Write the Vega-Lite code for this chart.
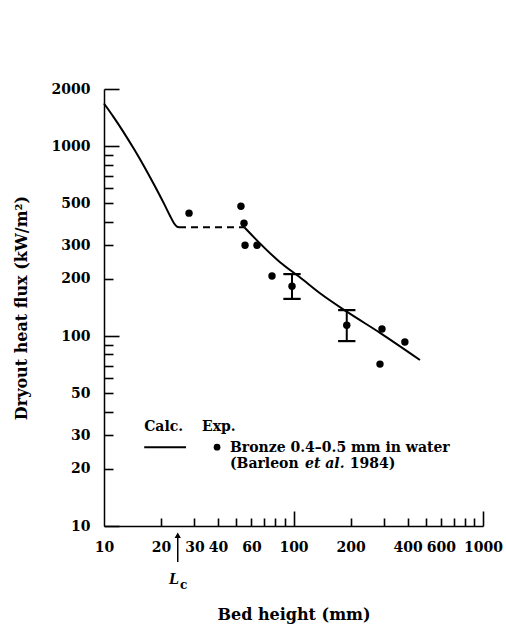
{
  "$schema": "https://vega.github.io/schema/vega-lite/v6.json",
  "width": 379,
  "height": 437,
  "autosize": "none",
  "padding": {"left": 104, "top": 89, "right": 23, "bottom": 102},
  "background": "white",
  "config": {
    "view": {"stroke": null},
    "font": "DejaVu Serif",
    "axis": {
      "grid": false,
      "domainColor": "black",
      "domainWidth": 1.5,
      "tickColor": "black",
      "tickWidth": 1.6,
      "labelColor": "black",
      "labelFont": "DejaVu Serif",
      "labelFontWeight": "bold",
      "labelFontSize": 14,
      "titleFont": "DejaVu Serif",
      "titleFontWeight": "bold",
      "titleFontSize": 16,
      "titleColor": "black",
      "labelOverlap": false,
      "labelFlush": false
    }
  },
  "resolve": {"axis": {"x": "independent", "y": "independent"}},
  "datasets": {
    "calc1": [
      {"h": 10, "q": 1677}, {"h": 11.29, "q": 1413}, {"h": 12.75, "q": 1175}, {"h": 14.4, "q": 965},
      {"h": 16.26, "q": 784}, {"h": 18.36, "q": 628}, {"h": 20.73, "q": 498}, {"h": 22.3, "q": 430},
      {"h": 23.41, "q": 393}, {"h": 24.28, "q": 377}, {"h": 24.88, "q": 374}
    ],
    "calcDash": [{"h": 24.88, "q": 374}, {"h": 55, "q": 374}],
    "calc2": [
      {"h": 55, "q": 374}, {"h": 84.9, "q": 245}, {"h": 108, "q": 204}, {"h": 138, "q": 168},
      {"h": 192, "q": 134}, {"h": 286, "q": 104}, {"h": 465, "q": 74.8}
    ],
    "exp": [
      {"h": 28.1, "q": 444}, {"h": 52.8, "q": 483}, {"h": 54.8, "q": 393}, {"h": 55.5, "q": 301},
      {"h": 64.2, "q": 301}, {"h": 77.0, "q": 207}, {"h": 98.2, "q": 183}, {"h": 191, "q": 114},
      {"h": 293, "q": 109}, {"h": 387, "q": 93}, {"h": 286, "q": 71.2}
    ],
    "err": [{"h": 98.2, "lo": 157, "hi": 212}, {"h": 191, "lo": 94.1, "hi": 137}],
    "caps": [{"h": 98.2, "q": 157}, {"h": 98.2, "q": 212}, {"h": 191, "q": 94.1}, {"h": 191, "q": 137}],
    "legText": [
      {"h": 16.3, "q": 31.6, "t": "Calc."},
      {"h": 32.9, "q": 31.6, "t": "Exp."},
      {"h": 46.2, "q": 24.5, "t": "Bronze 0.4–0.5 mm in water"},
      {"h": 46.2, "q": 20.2, "t": "(Barleon"},
      {"h": 198, "q": 20.2, "t": "1984)"}
    ],
    "legItal": [{"h": 115, "q": 20.2, "t": "et al."}],
    "legLine": [{"h": 16.3, "q": 26.0}, {"h": 27.1, "q": 26.0}],
    "legDot": [{"h": 39.5, "q": 26.0}],
    "arrow": [{"h": 24.5, "lo": 6.46, "hi": 8.9}],
    "arrowHead": [{"h": 24.5, "q": 8.95}],
    "lcL": [{"h": 23.4, "q": 4.95, "t": "L"}],
    "lcC": [{"h": 26.3, "q": 4.65, "t": "c"}]
  },
  "layer": [
    {
      "data": {"name": "calc1"},
      "mark": {"type": "line", "color": "black", "strokeWidth": 2, "interpolate": "monotone"},
      "encoding": {
        "x": {
          "field": "h", "type": "quantitative",
          "scale": {"type": "log", "domain": [10, 1000], "nice": false},
          "axis": {
            "orient": "bottom",
            "title": "Bed height (mm)",
            "titlePadding": 52,
            "values": [10, 20, 30, 40, 60, 100, 200, 400, 600, 1000],
            "format": "d",
            "ticks": false,
            "tickSize": 0,
            "labelPadding": 14
          }
        },
        "y": {
          "field": "q", "type": "quantitative",
          "scale": {"type": "log", "domain": [10, 2000], "nice": false},
          "axis": {
            "orient": "left",
            "title": "Dryout heat flux (kW/m²)",
            "titlePadding": 22,
            "values": [10, 20, 30, 50, 100, 200, 300, 500, 1000, 2000],
            "format": "d",
            "ticks": false,
            "tickSize": 0,
            "labelPadding": 14
          }
        }
      }
    },
    {
      "data": {"name": "calcDash"},
      "mark": {"type": "line", "color": "black", "strokeWidth": 2, "strokeDash": [7, 5]},
      "encoding": {
        "x": {"field": "h", "type": "quantitative",
          "axis": {"orient": "bottom", "values": [100, 1000], "labels": false, "domain": false, "tickSize": -15, "title": null}},
        "y": {"field": "q", "type": "quantitative", "axis": null}
      }
    },
    {
      "data": {"name": "calc2"},
      "mark": {"type": "line", "color": "black", "strokeWidth": 2, "interpolate": "monotone"},
      "encoding": {
        "x": {"field": "h", "type": "quantitative",
          "axis": {"orient": "bottom", "values": [20, 30, 40, 50, 60, 70, 80, 90, 200, 300, 400, 500, 600, 700, 800, 900], "labels": false, "domain": false, "tickSize": -8, "title": null}},
        "y": {"field": "q", "type": "quantitative", "axis": null}
      }
    },
    {
      "data": {"name": "err"},
      "mark": {"type": "rule", "color": "black", "strokeWidth": 2},
      "encoding": {
        "x": {"field": "h", "type": "quantitative", "axis": null},
        "y": {"field": "lo", "type": "quantitative",
          "axis": {"orient": "left", "values": [10, 100, 1000, 2000], "labels": false, "domain": false, "tickSize": -15, "title": null}},
        "y2": {"field": "hi"}
      }
    },
    {
      "data": {"name": "caps"},
      "mark": {"type": "point", "shape": "stroke", "size": 300, "stroke": "black", "strokeWidth": 2.2, "opacity": 1},
      "encoding": {
        "x": {"field": "h", "type": "quantitative", "axis": null},
        "y": {"field": "q", "type": "quantitative",
          "axis": {"orient": "left", "values": [20, 30, 40, 50, 60, 70, 80, 90, 200, 300, 400, 500, 600, 700, 800, 900], "labels": false, "domain": false, "tickSize": -9, "title": null}}
      }
    },
    {
      "data": {"name": "exp"},
      "mark": {"type": "circle", "color": "black", "size": 55, "opacity": 1},
      "encoding": {"x": {"field": "h", "type": "quantitative", "axis": null}, "y": {"field": "q", "type": "quantitative", "axis": null}}
    },
    {
      "data": {"name": "legText"},
      "mark": {"type": "text", "align": "left", "baseline": "alphabetic", "font": "DejaVu Serif", "fontWeight": "bold", "fontSize": 14, "color": "black"},
      "encoding": {"x": {"field": "h", "type": "quantitative", "axis": null}, "y": {"field": "q", "type": "quantitative", "axis": null}, "text": {"field": "t"}}
    },
    {
      "data": {"name": "legItal"},
      "mark": {"type": "text", "align": "left", "baseline": "alphabetic", "font": "DejaVu Serif", "fontWeight": "bold", "fontStyle": "italic", "fontSize": 14, "color": "black"},
      "encoding": {"x": {"field": "h", "type": "quantitative", "axis": null}, "y": {"field": "q", "type": "quantitative", "axis": null}, "text": {"field": "t"}}
    },
    {
      "data": {"name": "legLine"},
      "mark": {"type": "line", "color": "black", "strokeWidth": 2},
      "encoding": {"x": {"field": "h", "type": "quantitative", "axis": null}, "y": {"field": "q", "type": "quantitative", "axis": null}}
    },
    {
      "data": {"name": "legDot"},
      "mark": {"type": "circle", "color": "black", "size": 45, "opacity": 1},
      "encoding": {"x": {"field": "h", "type": "quantitative", "axis": null}, "y": {"field": "q", "type": "quantitative", "axis": null}}
    },
    {
      "data": {"name": "arrow"},
      "mark": {"type": "rule", "color": "black", "strokeWidth": 1.5},
      "encoding": {"x": {"field": "h", "type": "quantitative", "axis": null}, "y": {"field": "lo", "type": "quantitative", "axis": null}, "y2": {"field": "hi"}}
    },
    {
      "data": {"name": "arrowHead"},
      "mark": {"type": "point", "shape": "triangle-up", "size": 40, "filled": true, "color": "black", "opacity": 1},
      "encoding": {"x": {"field": "h", "type": "quantitative", "axis": null}, "y": {"field": "q", "type": "quantitative", "axis": null}}
    },
    {
      "data": {"name": "lcL"},
      "mark": {"type": "text", "align": "center", "baseline": "alphabetic", "font": "Liberation Serif", "fontStyle": "italic", "fontWeight": "bold", "fontSize": 17, "color": "black"},
      "encoding": {"x": {"field": "h", "type": "quantitative", "axis": null}, "y": {"field": "q", "type": "quantitative", "axis": null}, "text": {"field": "t"}}
    },
    {
      "data": {"name": "lcC"},
      "mark": {"type": "text", "align": "center", "baseline": "alphabetic", "font": "DejaVu Serif", "fontWeight": "bold", "fontSize": 12, "color": "black"},
      "encoding": {"x": {"field": "h", "type": "quantitative", "axis": null}, "y": {"field": "q", "type": "quantitative", "axis": null}, "text": {"field": "t"}}
    }
  ]
}
